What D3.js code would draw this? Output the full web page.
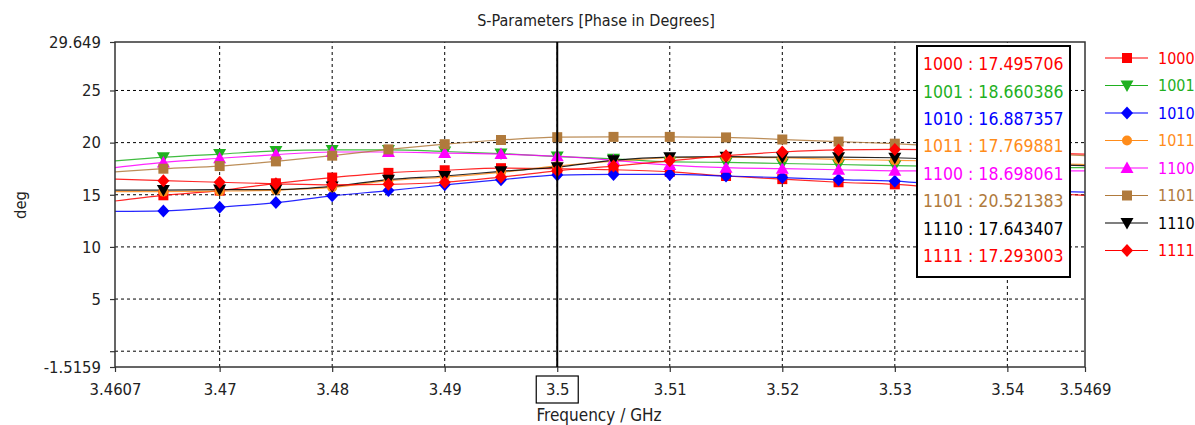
<!DOCTYPE html>
<html lang="en">
<head>
  <meta charset="UTF-8">
  <title>S-Parameters [Phase in Degrees]</title>
  <script src="https://d3js.org/d3.v7.min.js"></script>
  <style>
    body {
      margin: 0;
      background-color: #ffffff;
      overflow: hidden;
    }
    svg text {
      font-family: "DejaVu Sans Condensed", "DejaVu Sans", sans-serif;
    }
  </style>
</head>
<body>
  <script>
    const width = 1195;
    const height = 425;

    // frequency points (GHz), first/last are the plot edges
    const freqs = [3.4607, 3.465, 3.47, 3.475, 3.48, 3.485, 3.49, 3.495, 3.5, 3.505,
                   3.51, 3.515, 3.52, 3.525, 3.53, 3.535, 3.54, 3.545, 3.5469];

    const seriesNames = ['1000', '1001', '1010', '1011', '1100', '1101', '1110', '1111'];
    const seriesColors = ['#ff0000', '#1fb01f', '#0000ff', '#ff8c1a', '#ff00ff', '#b07a3c', '#000000', '#ff0000'];
    const seriesMarkers = ['square', 'down', 'diamond', 'circle', 'up', 'square', 'down', 'diamond'];

    // phase values in degrees
    const s1000 = [14.4, 14.95, 15.4, 16.1, 16.65, 17.1, 17.35, 17.55, 17.495706, 17.4, 17.2, 16.8, 16.5, 16.2, 16.0, 15.6, 15.3, 15.05, 14.95];
    const s1001 = [18.25, 18.6, 18.9, 19.2, 19.3, 19.3, 19.15, 18.95, 18.660386, 18.45, 18.15, 18.1, 18.0, 17.9, 17.8, 17.7, 17.65, 17.6, 17.6];
    const s1010 = [13.4, 13.45, 13.8, 14.25, 14.9, 15.4, 15.95, 16.45, 16.887357, 16.95, 16.95, 16.8, 16.65, 16.45, 16.3, 15.9, 15.55, 15.3, 15.25];
    const s1011 = [15.3, 15.3, 15.35, 15.45, 15.7, 16.35, 16.7, 17.15, 17.769881, 18.2, 18.55, 18.6, 18.55, 18.4, 18.3, 18.2, 18.05, 17.95, 17.9];
    const s1100 = [17.6, 18.1, 18.5, 18.85, 19.1, 19.1, 19.0, 18.9, 18.698061, 18.3, 17.85, 17.6, 17.5, 17.4, 17.3, 17.3, 17.3, 17.3, 17.3];
    const s1101 = [17.2, 17.5, 17.75, 18.2, 18.75, 19.35, 19.85, 20.25, 20.521383, 20.55, 20.55, 20.5, 20.3, 20.1, 19.9, 19.6, 19.2, 18.85, 18.75];
    const s1110 = [15.45, 15.45, 15.5, 15.5, 15.8, 16.45, 16.8, 17.25, 17.643407, 18.3, 18.6, 18.65, 18.6, 18.6, 18.55, 18.3, 18.0, 17.85, 17.8];
    const s1111 = [16.5, 16.35, 16.2, 16.05, 15.95, 16.0, 16.2, 16.7, 17.293003, 17.75, 18.25, 18.75, 19.1, 19.3, 19.35, 19.3, 19.1, 18.95, 18.9];
    const seriesValues = [s1000, s1001, s1010, s1011, s1100, s1101, s1110, s1111];

    const xTicks = [3.4607, 3.47, 3.48, 3.49, 3.5, 3.51, 3.52, 3.53, 3.54, 3.5469];
    const yTicks = [-1.5159, 0, 5, 10, 15, 20, 25, 29.649];
    const yTickLabels = ['-1.5159', '', '5', '10', '15', '20', '25', '29.649'];
    const markerFreq = 3.5;
    const markerLabels = ['17.495706', '18.660386', '16.887357', '17.769881', '18.698061', '20.521383', '17.643407', '17.293003'];

    const margin = { left: 115, right: 110, top: 42, bottom: 58 };

    const svg = d3.select("body")
      .append("svg")
      .attr("width", width)
      .attr("height", height);

    const x = d3.scaleLinear()
      .domain([xTicks[0], xTicks[xTicks.length - 1]])
      .range([margin.left, width - margin.right]);

    const y = d3.scaleLinear()
      .domain([yTicks[0], yTicks[yTicks.length - 1]])
      .range([height - margin.bottom, margin.top]);

    const shapes = {
      square: "M-5,-5H5V5H-5Z",
      diamond: "M0,-6.5L6,0L0,6.5L-6,0Z",
      up: "M0,-6.5L6.5,5L-6.5,5Z",
      down: "M0,6.5L6.5,-5L-6.5,-5Z",
      circle: "M5,0A5,5 0 1,1 -5,0A5,5 0 1,1 5,0Z"
    };

    // grid lines (dashed)
    const grid = svg.append("g");
    grid.selectAll(".gx")
      .data(xTicks.slice(1, -1))
      .enter().append("line")
      .attr("x1", d => x(d)).attr("x2", d => x(d))
      .attr("y1", y.range()[0]).attr("y2", y.range()[1])
      .attr("stroke", "#000").attr("stroke-width", 1)
      .attr("stroke-dasharray", "3,3");
    grid.selectAll(".gy")
      .data(yTicks.slice(1, -1))
      .enter().append("line")
      .attr("y1", d => y(d)).attr("y2", d => y(d))
      .attr("x1", x.range()[0]).attr("x2", x.range()[1])
      .attr("stroke", "#000").attr("stroke-width", 1)
      .attr("stroke-dasharray", "3,3");

    // curves
    const line = d3.line()
      .x(d => x(d[0]))
      .y(d => y(d[1]))
      .curve(d3.curveMonotoneX);

    seriesValues.forEach((vals, i) => {
      const pts = freqs.map((f, j) => [f, vals[j]]);
      svg.append("path")
        .attr("d", line(pts))
        .attr("fill", "none")
        .attr("stroke", seriesColors[i])
        .attr("stroke-width", 1.2)
        .attr("opacity", 0.85);
    });

    // markers (not on the edge points)
    seriesValues.forEach((vals, i) => {
      const pts = freqs.map((f, j) => [f, vals[j]]).slice(1, -1);
      svg.append("g").selectAll("path")
        .data(pts)
        .enter().append("path")
        .attr("d", shapes[seriesMarkers[i]])
        .attr("transform", d => `translate(${x(d[0])},${y(d[1])})`)
        .attr("fill", seriesColors[i]);
    });

    // frame
    svg.append("rect")
      .attr("x", x.range()[0]).attr("y", y.range()[1])
      .attr("width", x.range()[1] - x.range()[0])
      .attr("height", y.range()[0] - y.range()[1])
      .attr("fill", "none")
      .attr("stroke", "#333").attr("stroke-width", 1.5);

    // axes
    const xAxis = svg.append("g")
      .attr("transform", `translate(0,${y.range()[0]})`)
      .call(d3.axisBottom(x).tickValues(xTicks).tickSize(5).tickPadding(12)
        .tickFormat(d => String(d)));
    const yAxis = svg.append("g")
      .attr("transform", `translate(${x.range()[0]},0)`)
      .call(d3.axisLeft(y).tickValues(yTicks).tickSize(5).tickPadding(9)
        .tickFormat((d, i) => yTickLabels[i]));
    [xAxis, yAxis].forEach(a => {
      a.select(".domain").remove();
      a.selectAll("line").attr("stroke", "#333").attr("stroke-width", 1.2);
      a.selectAll("text").attr("fill", "#222").style("font-size", "16.5px");
    });
    xAxis.selectAll("text").attr("dy", "0.32em").attr("y", 23);

    // active marker line at 3.5 GHz
    svg.append("line")
      .attr("x1", x(markerFreq)).attr("x2", x(markerFreq))
      .attr("y1", y.range()[0]).attr("y2", y.range()[1])
      .attr("stroke", "#000").attr("stroke-width", 2);
    svg.append("rect")
      .attr("x", x(markerFreq) - 21).attr("y", y.range()[0] + 9)
      .attr("width", 42).attr("height", 27)
      .attr("fill", "none").attr("stroke", "#000").attr("stroke-width", 1.2);

    // title + axis labels
    svg.append("text")
      .attr("x", 596).attr("y", 26)
      .attr("text-anchor", "middle")
      .attr("fill", "#222")
      .style("font-size", "16px")
      .text("S-Parameters [Phase in Degrees]");
    svg.append("text")
      .attr("x", 599).attr("y", 421)
      .attr("text-anchor", "middle")
      .attr("fill", "#222")
      .style("font-size", "17px")
      .text("Frequency / GHz");
    svg.append("text")
      .attr("transform", "translate(26,205) rotate(-90)")
      .attr("text-anchor", "middle")
      .attr("fill", "#222")
      .style("font-size", "16.5px")
      .text("deg");

    // value box at the marker frequency
    const box = svg.append("g");
    box.append("rect")
      .attr("x", 917).attr("y", 46)
      .attr("width", 153).attr("height", 231)
      .attr("fill", "#fff")
      .attr("stroke", "#000").attr("stroke-width", 2);
    box.selectAll("text")
      .data(seriesNames)
      .enter().append("text")
      .attr("x", 923)
      .attr("y", (d, i) => 64 + i * 27.4)
      .attr("dy", "0.35em")
      .attr("fill", (d, i) => seriesColors[i])
      .style("font-size", "17.5px")
      .text((d, i) => `${d} : ${markerLabels[i]}`);

    // legend
    const legend = svg.append("g");
    seriesNames.forEach((name, i) => {
      const ly = 58 + i * 27.5;
      legend.append("line")
        .attr("x1", 1105).attr("x2", 1148)
        .attr("y1", ly).attr("y2", ly)
        .attr("stroke", seriesColors[i]).attr("stroke-width", 1.2);
      legend.append("path")
        .attr("d", shapes[seriesMarkers[i]])
        .attr("transform", `translate(1127,${ly})`)
        .attr("fill", seriesColors[i]);
      legend.append("text")
        .attr("x", 1158).attr("y", ly)
        .attr("dy", "0.35em")
        .attr("fill", seriesColors[i])
        .style("font-size", "16px")
        .text(name);
    });
  </script>
</body>
</html>
